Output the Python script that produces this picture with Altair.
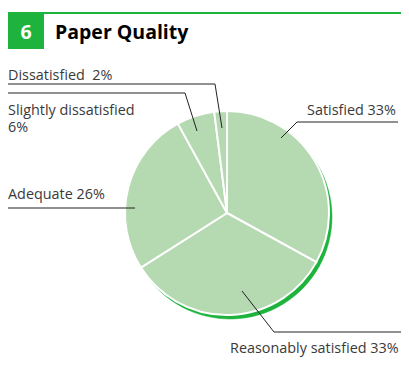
import altair as alt
import pandas as pd

# ---- data ----
categories = ["Satisfied", "Reasonably satisfied", "Adequate", "Slightly dissatisfied", "Dissatisfied"]
values = [33, 33, 26, 6, 2]
label_texts = ["Satisfied 33%", "Reasonably satisfied 33%", "Adequate 26%",
               "Slightly dissatisfied\n6%", "Dissatisfied\u00a0 2%"]
title_number = "6"
title_text = "Paper Quality"

# ---- layout (annotation positions, chart pixel coords) ----
W, H = 393, 371
CX, CY, R = 219, 205, 102
label_x = [299, 222, 0, 0, 0]
label_y = [107, 345, 191, 107, 72]
leader_pts = [
    [(390, 114), (289, 114), (273, 130)],
    [(397, 324), (266, 324), (234, 283)],
    [(0, 200), (127, 200)],
    [(0, 85), (177, 85), (189, 123)],
    [(0, 76), (207, 76), (214, 120)],
]

GREEN = "#1db33c"
LIGHT = "#b5d9b0"
FONT = "Open Sans"

pie_df = pd.DataFrame({"cat": categories, "val": values, "idx": list(range(len(values)))})
lab_df = pd.DataFrame({"text": label_texts, "x": label_x, "y": label_y})
rows = []
for i, pts in enumerate(leader_pts):
    for j, (px, py) in enumerate(pts):
        rows.append({"g": i, "o": j, "x": px, "y": py})
lead_df = pd.DataFrame(rows)

xs = alt.Scale(domain=[0, W], nice=False, zero=False)
ys = alt.Scale(domain=[H, 0], nice=False, zero=False)

one = pd.DataFrame({"a": [0]})

top_line = alt.Chart(one).mark_rule(color=GREEN, strokeWidth=2).encode(
    x=alt.value(0), x2=alt.value(W), y=alt.value(5))
square = alt.Chart(one).mark_rect(color=GREEN).encode(
    x=alt.value(0), x2=alt.value(36), y=alt.value(4), y2=alt.value(41))
num = alt.Chart(one).mark_text(text=title_number, color="white", font=FONT, fontWeight="bold",
                               fontSize=19.5, align="center", baseline="alphabetic").encode(
    x=alt.value(18), y=alt.value(31))
ttl = alt.Chart(one).mark_text(text=title_text, color="black", font=FONT, fontWeight="bold",
                               fontSize=19.5, align="left", baseline="alphabetic").encode(
    x=alt.value(47), y=alt.value(31))

shadow = alt.Chart(pie_df).mark_arc(radius=R, color=GREEN, stroke=GREEN, strokeWidth=0.5).encode(
    theta=alt.Theta("val:Q", stack=True), order=alt.Order("idx:Q"),
    x=alt.value(CX + 3), y=alt.value(CY + 4))
pie = alt.Chart(pie_df).mark_arc(radius=R, color=LIGHT, stroke="white", strokeWidth=2).encode(
    theta=alt.Theta("val:Q", stack=True), order=alt.Order("idx:Q"),
    x=alt.value(CX), y=alt.value(CY))

leaders = alt.Chart(lead_df).mark_line(color="#222", strokeWidth=1, clip=True).encode(
    x=alt.X("x:Q", scale=xs, axis=None), y=alt.Y("y:Q", scale=ys, axis=None),
    detail="g:N", order="o:Q")
labels = alt.Chart(lab_df).mark_text(font=FONT, fontSize=14.4, color="#3a3a3a", align="left",
                                     baseline="alphabetic", lineBreak="\n", lineHeight=17).encode(
    x=alt.X("x:Q", scale=xs, axis=None), y=alt.Y("y:Q", scale=ys, axis=None), text="text:N")

chart = alt.layer(top_line, square, num, ttl, shadow, pie, leaders, labels).properties(
    width=W, height=H, padding=0, autosize=alt.AutoSizeParams(type="none")
).configure_view(stroke=None)

chart.save("out.html", embed_options={"renderer": "svg", "actions": False})
